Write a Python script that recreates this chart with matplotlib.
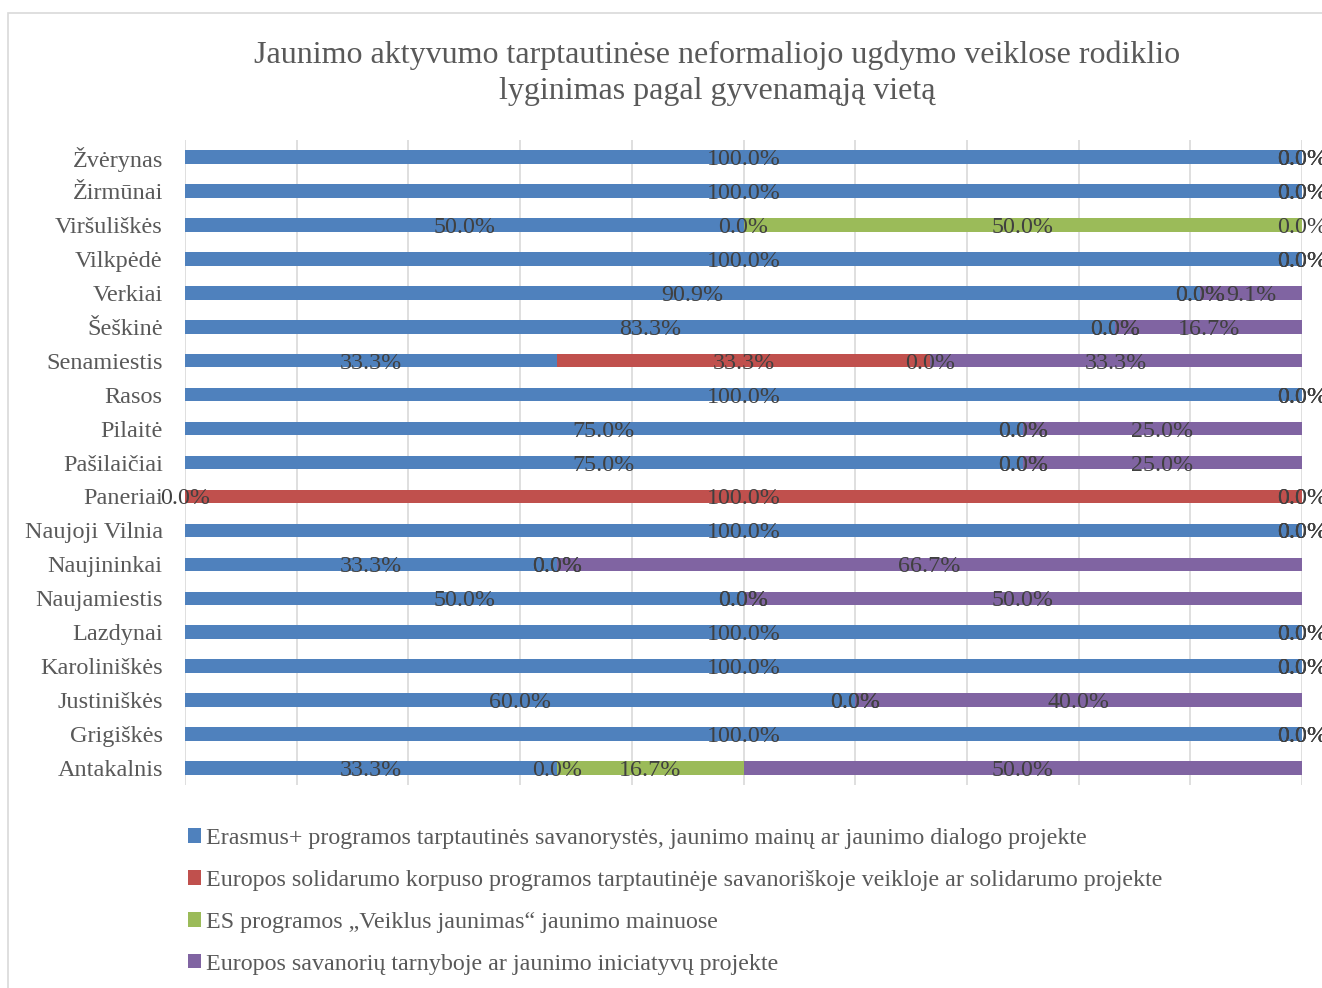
import matplotlib
matplotlib.use("Agg")
import matplotlib.pyplot as plt
from matplotlib.patches import Patch, Rectangle
import numpy as np

plt.rcParams['font.family'] = ['Liberation Serif', 'DejaVu Serif']

categories = ["Antakalnis", "Grigiškės", "Justiniškės", "Karoliniškės", "Lazdynai",
              "Naujamiestis", "Naujininkai", "Naujoji Vilnia", "Paneriai", "Pašilaičiai",
              "Pilaitė", "Rasos", "Senamiestis", "Šeškinė", "Verkiai", "Vilkpėdė",
              "Viršuliškės", "Žirmūnai", "Žvėrynas"]

erasmus = [33.3, 100.0, 60.0, 100.0, 100.0, 50.0, 33.3, 100.0, 0.0, 75.0,
           75.0, 100.0, 33.3, 83.3, 90.9, 100.0, 50.0, 100.0, 100.0]
solidarumo = [0.0, 0.0, 0.0, 0.0, 0.0, 0.0, 0.0, 0.0, 100.0, 0.0,
              0.0, 0.0, 33.3, 0.0, 0.0, 0.0, 0.0, 0.0, 0.0]
veiklus = [16.7, 0.0, 0.0, 0.0, 0.0, 0.0, 0.0, 0.0, 0.0, 0.0,
           0.0, 0.0, 0.0, 0.0, 0.0, 0.0, 50.0, 0.0, 0.0]
savanoriu = [50.0, 0.0, 40.0, 0.0, 0.0, 50.0, 66.7, 0.0, 0.0, 25.0,
             25.0, 0.0, 33.3, 16.7, 9.1, 0.0, 0.0, 0.0, 0.0]

series_names = [
    "Erasmus+ programos tarptautinės savanorystės, jaunimo mainų ar jaunimo dialogo projekte",
    "Europos solidarumo korpuso programos tarptautinėje savanoriškoje veikloje ar solidarumo projekte",
    "ES programos „Veiklus jaunimas“ jaunimo mainuose",
    "Europos savanorių tarnyboje ar jaunimo iniciatyvų projekte",
]
colors = ["#4F81BD", "#C0504D", "#9BBB59", "#8064A2"]

title = "Jaunimo aktyvumo tarptautinėse neformaliojo ugdymo veiklose rodiklio\nlyginimas pagal gyvenamąją vietą"

W, H = 1322, 988
fig = plt.figure(figsize=(W / 100, H / 100), dpi=100)

# chart frame
fig.patches.append(Rectangle((8 / W, -0.1), 1.2, 1 - 13 / H + 0.1, transform=fig.transFigure,
                             fill=False, edgecolor="#D9D9D9", linewidth=1.2))

ax = fig.add_axes([185 / W, 1 - 785 / H, (1302 - 185) / W, (785 - 140) / H])

data = np.array([erasmus, solidarumo, veiklus, savanoriu])
totals = data.sum(axis=0)
norm = data / totals * 100.0
y = np.arange(len(categories))
left = np.zeros(len(categories))
for i in range(4):
    ax.barh(y, norm[i], left=left, height=0.4, color=colors[i], zorder=2)
    for j in range(len(categories)):
        cx = left[j] + norm[i][j] / 2
        ax.text(cx, y[j], f"{data[i][j]:.1f}%", ha="center", va="center_baseline",
                fontsize=17.3, color="#404040", zorder=3)
    left += norm[i]

ax.set_xlim(0, 100)
ax.set_ylim(-0.5, len(categories) - 0.5)
ax.set_xticks(np.arange(0, 101, 10))
ax.set_xticklabels([])
ax.tick_params(axis="x", length=0)
ax.tick_params(axis="y", length=0, pad=16)
ax.set_yticks(y)
ax.set_yticklabels(categories, fontsize=17.5, color="#595959")
ax.grid(axis="x", color="#D9D9D9", linewidth=1.2, zorder=0)
for s in ax.spines.values():
    s.set_visible(False)

fig.text(717 / W, 1 - 73 / H, title, ha="center", va="center", fontsize=23,
         color="#595959", linespacing=1.3)

handles = [Patch(facecolor=c, edgecolor="none") for c in colors]
fig.legend(handles, series_names, loc="upper left", bbox_to_anchor=(188 / W, 1 - 828 / H),
           frameon=False, fontsize=17.3, labelcolor="#595959", handlelength=0.55,
           handleheight=0.55, handletextpad=0.2, labelspacing=0.87, borderaxespad=0,
           borderpad=0)

fig.savefig("out.png", dpi=100)
